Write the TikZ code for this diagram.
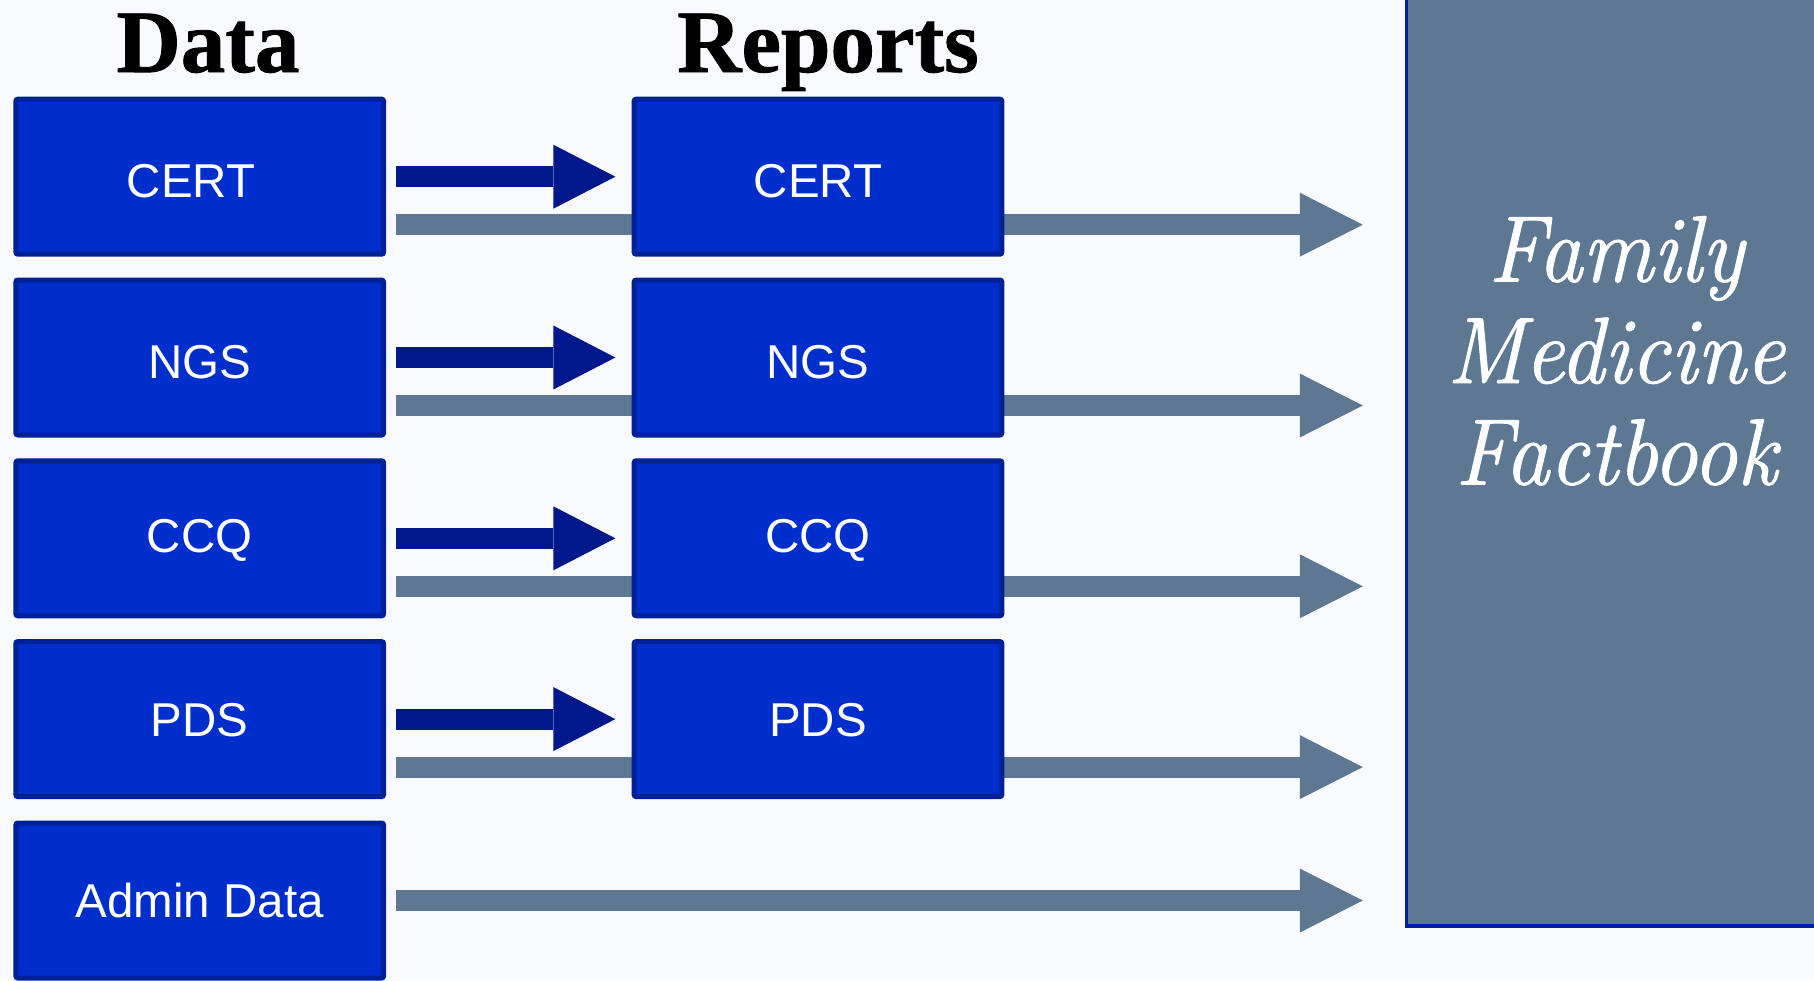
\documentclass[tikz,border=0pt]{standalone}
\usepackage{fontspec}
\newfontfamily\titlefont{Liberation Serif}[FakeBold=1]
\newfontfamily\boxfont{Liberation Sans}
\newfontfamily\fbfont{Latin Modern Roman}[FakeStretch=0.94,FakeBold=1.2]
\usetikzlibrary{arrows.meta,calc}
\definecolor{bgc}{RGB}{248,250,253}
\definecolor{boxfill}{RGB}{0,46,204}
\definecolor{boxborder}{RGB}{0,32,150}
\definecolor{darkarrow}{RGB}{0,24,140}
\definecolor{grayc}{RGB}{94,120,147}
\definecolor{fbborder}{RGB}{0,32,160}
\tikzset{
  box/.style={draw=boxborder, fill=boxfill, line width=5pt, rounded corners=2pt,
    minimum width=367.7pt, minimum height=155pt, inner sep=0pt, text=white,
    text height=34pt, text depth=0pt,
    font=\boxfont\fontsize{47.5}{57}\selectfont},
  darrow/.style={draw=darkarrow, line width=21pt,
    -{Triangle[length=62pt,width=64pt,line width=0pt 0]}},
  garrow/.style={draw=grayc, line width=21pt,
    -{Triangle[length=63pt,width=64pt,line width=0pt 0]}},
  title/.style={font=\titlefont\bfseries\fontsize{89}{100}\selectfont, inner sep=0pt, anchor=base},
  fbbox/.style={draw=fbborder, fill=grayc, line width=3.5pt, inner sep=0pt},
  fbtext/.style={font=\fbfont\itshape\fontsize{94}{101.5}\selectfont, text=white,
    align=center, inner sep=0pt, anchor=north},
}
\begin{document}
\begin{tikzpicture}[x=1pt,y=-1pt]
\fill[bgc] (0,0) rectangle (1814,980);
\useasboundingbox (0,0) rectangle (1814,980);

% titles
\node[title] (tdata) at (208,72) {Data};
\node[title] (trep) at (828,72) {Reports};

% data boxes
\node[box] (d1) at (199.7,176.7) {\hspace*{-17pt}\raisebox{-4pt}{CERT}};
\node[box] (d2) at (199.7,357.5) {\raisebox{-4pt}{NGS}};
\node[box] (d3) at (199.7,538.3) {\raisebox{3pt}{CCQ}};
\node[box] (d4) at (199.7,719.1) {PDS};
\node[box] (d5) at (199.7,900.5) {Admin Data};

% factbook panel
\node[fbbox, minimum width=422pt, minimum height=934pt] (fb) at (1617.25,458.9) {};
\node[fbtext] (fbt) at (1616,216) {Family\\Medicine\\Factbook};

% gray arrows (behind report boxes)
\foreach \i in {1,...,4}{
  \coordinate (g\i) at ([shift={(10.4pt,-48pt)}]d\i.east);
  \draw[garrow, shorten >=41.7pt] (g\i) -- (g\i -| fb.west);
}
\coordinate (g5) at ([xshift=10.4pt]d5.east);
\draw[garrow, shorten >=41.7pt] (g5) -- (g5 -| fb.west);

% report boxes
\node[box] (r1) at (818,176.7) {\raisebox{-4pt}{CERT}};
\node[box] (r2) at (818,357.5) {\raisebox{-4pt}{NGS}};
\node[box] (r3) at (818,538.3) {\raisebox{3pt}{CCQ}};
\node[box] (r4) at (818,719.1) {PDS};

% dark arrows
\foreach \i in {1,...,4}{
  \draw[darrow, shorten <=10.4pt, shorten >=16.3pt] (d\i.east) -- (r\i.west);
}
\end{tikzpicture}
\end{document}
